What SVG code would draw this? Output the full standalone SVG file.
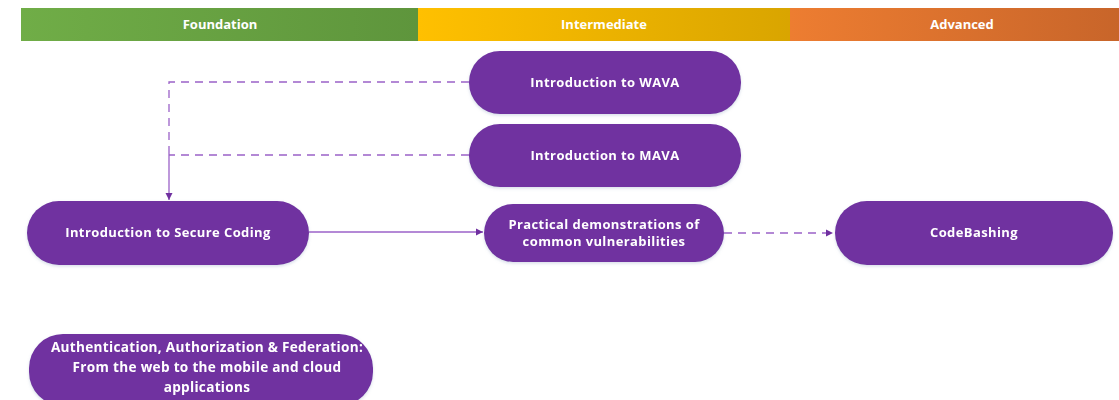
<svg xmlns="http://www.w3.org/2000/svg" width="1119" height="400" viewBox="0 0 1119 400">
<style>
.node{fill:#7030A0;}
.t{font-family:"Open Sans","Liberation Sans",sans-serif;font-size:13px;letter-spacing:0.4px;font-weight:bold;fill:#ffffff;text-anchor:middle;}
.ta{font-family:"Open Sans","Liberation Sans",sans-serif;font-size:13.6px;letter-spacing:0.3px;font-weight:bold;fill:#ffffff;text-anchor:middle;}
.h{font-family:"Open Sans","Liberation Sans",sans-serif;font-size:13px;font-weight:bold;fill:#ffffff;text-anchor:middle;}
.c{fill:none;stroke:#9B62C8;stroke-width:1.3;}
.d{stroke-dasharray:8,6;}
</style>
<defs>
<linearGradient id="g1" x1="0" y1="0" x2="1" y2="0"><stop offset="0" stop-color="#70AD47"/><stop offset="1" stop-color="#5E953C"/></linearGradient>
<linearGradient id="g2" x1="0" y1="0" x2="1" y2="0"><stop offset="0" stop-color="#FFC000"/><stop offset="1" stop-color="#D9A500"/></linearGradient>
<linearGradient id="g3" x1="0" y1="0" x2="1" y2="0"><stop offset="0" stop-color="#ED7D31"/><stop offset="1" stop-color="#C8652A"/></linearGradient>
<marker id="ah" markerWidth="8" markerHeight="8" refX="7" refY="4" orient="auto" markerUnits="userSpaceOnUse"><path d="M0,0.5 L7,4 L0,7.5 Z" fill="#7030A0"/></marker>
<filter id="sh" x="-5%" y="-10%" width="110%" height="130%"><feDropShadow dx="0" dy="1.5" stdDeviation="1.5" flood-color="#8fa0c0" flood-opacity="0.35"/></filter>
</defs>
<g id="phases">
<rect x="21" y="8" width="397" height="33" fill="url(#g1)"/>
<rect x="418" y="8" width="372" height="33" fill="url(#g2)"/>
<rect x="790" y="8" width="329" height="33" fill="url(#g3)"/>
<text class="h" x="220" y="29">Foundation</text>
<text class="h" x="604" y="29">Intermediate</text>
<text class="h" x="962" y="29">Advanced</text>
</g>
<g id="connectors">
<path class="c d" d="M469,82 H169 V150"/>
<path class="c d" d="M469,155 H169"/>
<path class="c" d="M169,150 V200" marker-end="url(#ah)"/>
<path class="c" d="M309,232 H483" marker-end="url(#ah)"/>
<path class="c d" d="M724,233 H833" marker-end="url(#ah)"/>
</g>
<g id="wava" filter="url(#sh)">
<rect class="node" x="469" y="51" width="272" height="63" rx="31"/>
<text class="t" x="605" y="87">Introduction to WAVA</text>
</g>
<g id="mava" filter="url(#sh)">
<rect class="node" x="469" y="124" width="272" height="63" rx="31"/>
<text class="t" x="605" y="160">Introduction to MAVA</text>
</g>
<g id="secure" filter="url(#sh)">
<rect class="node" x="27" y="201" width="282" height="64" rx="32"/>
<text class="t" x="168" y="237">Introduction to Secure Coding</text>
</g>
<g id="practical" filter="url(#sh)">
<rect class="node" x="484" y="204" width="240" height="58" rx="29"/>
<text class="t" x="604" y="229">Practical demonstrations of</text>
<text class="t" x="604" y="246">common vulnerabilities</text>
</g>
<g id="codebashing" filter="url(#sh)">
<rect class="node" x="835" y="201" width="278" height="64" rx="32"/>
<text class="t" x="974" y="237">CodeBashing</text>
</g>
<g id="auth" filter="url(#sh)">
<rect class="node" x="29" y="334" width="344" height="72" rx="34"/>
<text class="ta" x="207" y="352">Authentication, Authorization &amp; Federation:</text>
<text class="ta" x="207" y="372">From the web to the mobile and cloud</text>
<text class="ta" x="207" y="392">applications</text>
</g>
</svg>
